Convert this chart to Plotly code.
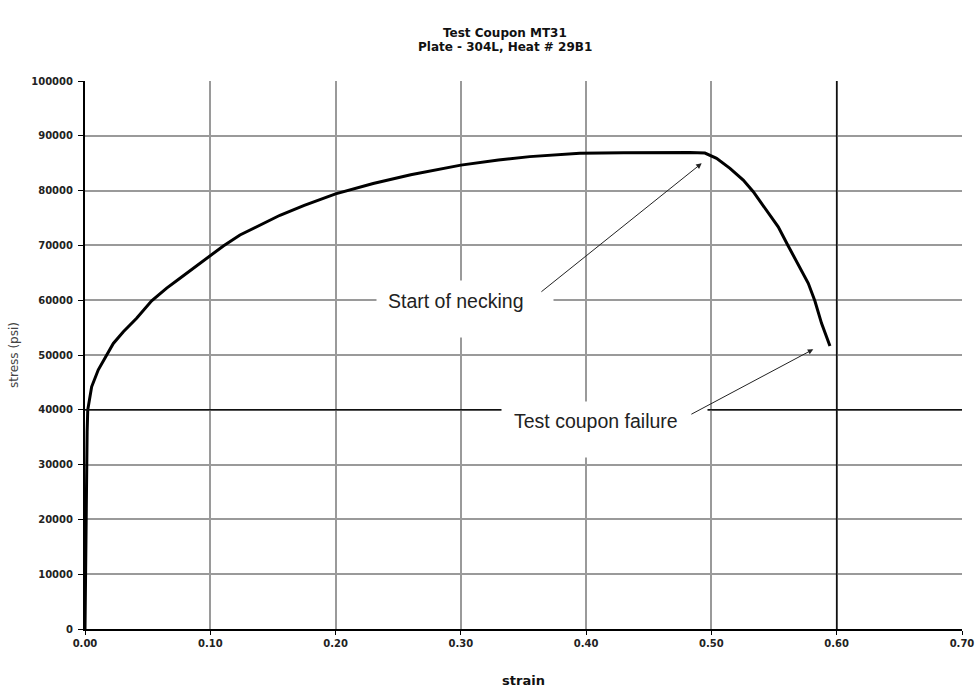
import plotly.graph_objects as go

# Data
strain = [0, 0.0003, 0.0006, 0.0009, 0.0013, 0.0017, 0.0022, 0.0053, 0.0106, 0.0173,
          0.0226, 0.0306, 0.0412, 0.0532, 0.0652, 0.0758, 0.0864, 0.1003, 0.1104, 0.1237,
          0.1397, 0.1556, 0.175, 0.2, 0.23, 0.26, 0.3, 0.33, 0.355, 0.395,
          0.43, 0.46, 0.4828, 0.4948, 0.5041, 0.5148, 0.5254, 0.5334, 0.544, 0.5533,
          0.5613, 0.5693, 0.5773, 0.5826, 0.5879, 0.5946]
stress = [0, 8000, 16000, 24000, 31000, 36000, 40000, 44200, 47300, 50000,
          52100, 54250, 56700, 59900, 62200, 64000, 65800, 68250, 69900, 71900,
          73700, 75500, 77300, 79400, 81300, 82900, 84650, 85600, 86200, 86800,
          86900, 86950, 86950, 86850, 85900, 84070, 81930, 79800, 76460, 73400,
          69900, 66420, 63080, 59850, 55780, 51640]

x_ticks = [0.0, 0.1, 0.2, 0.3, 0.4, 0.5, 0.6, 0.7]
y_ticks = [0, 10000, 20000, 30000, 40000, 50000, 60000, 70000, 80000, 90000, 100000]

dark_grid_x = [0.6]
dark_grid_y = [40000]

title_lines = ["Test Coupon MT31", "Plate - 304L, Heat # 29B1"]

necking_text = "Start of necking"
necking_text_pos = (0.2963, 59910)
necking_box = (0.3033, 58390)
necking_head = (0.4922, 84980)
necking_tail = (0.3631, 61330)

failure_text = "Test coupon failure"
failure_text_pos = (0.4082, 37960)
failure_box = (0.4146, 36400)
failure_head = (0.5813, 51040)
failure_tail = (0.4828, 39050)

SANS = "Liberation Sans, Arial, sans-serif"
WIDE = "DejaVu Sans, Verdana, sans-serif"

fig = go.Figure()
fig.add_trace(go.Scatter(x=strain, y=stress, mode="lines",
                         line=dict(color="black", width=3),
                         showlegend=False, hoverinfo="skip"))

shapes = []
for xv in dark_grid_x:
    shapes.append(dict(type="line", xref="x", yref="y domain", x0=xv, x1=xv, y0=0, y1=1,
                       line=dict(color="#111111", width=1.6), layer="above"))
for yv in dark_grid_y:
    shapes.append(dict(type="line", xref="x domain", yref="y", x0=0, x1=1, y0=yv, y1=yv,
                       line=dict(color="#111111", width=1.6), layer="above"))

font_txt = dict(family=SANS, size=19.5, color="#222222")
title_font = dict(family=WIDE, size=12, color="#111111", weight="bold")

annotations = [
    dict(x=0.479, y=1, xref="paper", yref="paper", yshift=48, text=title_lines[0],
         showarrow=False, font=title_font, xanchor="center", yanchor="middle"),
    dict(x=0.479, y=1, xref="paper", yref="paper", yshift=34, text=title_lines[1],
         showarrow=False, font=title_font, xanchor="center", yanchor="middle"),
    # white label boxes
    dict(x=necking_box[0], y=necking_box[1], xref="x", yref="y", text=" ",
         showarrow=False, bgcolor="white", borderpad=0, width=176, height=56),
    dict(x=failure_box[0], y=failure_box[1], xref="x", yref="y", text=" ",
         showarrow=False, bgcolor="white", borderpad=0, width=205, height=55),
    # label texts
    dict(x=necking_text_pos[0], y=necking_text_pos[1], xref="x", yref="y", text=necking_text,
         showarrow=False, font=font_txt),
    dict(x=failure_text_pos[0], y=failure_text_pos[1], xref="x", yref="y", text=failure_text,
         showarrow=False, font=font_txt),
    # arrows
    dict(x=necking_head[0], y=necking_head[1], ax=necking_tail[0], ay=necking_tail[1],
         xref="x", yref="y", axref="x", ayref="y", text="", showarrow=True,
         arrowhead=2, arrowsize=1.1, arrowwidth=1, arrowcolor="#222222"),
    dict(x=failure_head[0], y=failure_head[1], ax=failure_tail[0], ay=failure_tail[1],
         xref="x", yref="y", axref="x", ayref="y", text="", showarrow=True,
         arrowhead=2, arrowsize=1.1, arrowwidth=1, arrowcolor="#222222"),
]

tickfont = dict(family=WIDE, size=10, color="#222222", weight="bold")

fig.update_layout(
    width=979, height=692,
    margin=dict(l=85, r=17, t=81, b=63, autoexpand=False),
    paper_bgcolor="white", plot_bgcolor="white",
    shapes=shapes,
    annotations=annotations,
    xaxis=dict(range=[0, 0.7], tickvals=x_ticks, tickformat=".2f",
               showgrid=True, gridcolor="#9a9a9a", gridwidth=1.6,
               showline=True, linecolor="black", linewidth=2,
               ticks="outside", ticklen=4, tickcolor="black", tickwidth=1,
               tickfont=tickfont, zeroline=False, automargin=False,
               title=dict(text="strain", standoff=28,
                          font=dict(family=WIDE, size=13, color="#111111", weight="bold"))),
    yaxis=dict(range=[0, 100000], tickvals=y_ticks, tickformat="d",
               showgrid=True, gridcolor="#9a9a9a", gridwidth=1.6,
               showline=True, linecolor="black", linewidth=2,
               ticks="outside", ticklen=5, tickcolor="black", tickwidth=1,
               ticklabelstandoff=3, automargin=False,
               tickfont=tickfont, zeroline=False,
               title=dict(text="stress (psi)", standoff=10,
                          font=dict(family=WIDE, size=12, color="#444444"))),
)

fig.write_html("out.html")
